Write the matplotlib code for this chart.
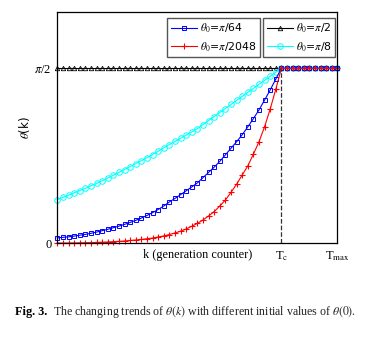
import numpy as np
import matplotlib
matplotlib.use('Agg')
import matplotlib.pyplot as plt

plt.rcParams['mathtext.fontset'] = 'stix'

# generation counter, Tc = 40, Tmax = 50
k = np.arange(0, 51)
Tc = 40
Tmax = 50

# theta(k), in units of pi/2 (k = 0..40, then flat at pi/2)
theta_pi8 = [0.250, 0.262, 0.275, 0.288, 0.301, 0.314, 0.328, 0.342, 0.357, 0.373,
             0.389, 0.405, 0.421, 0.438, 0.455, 0.472, 0.489, 0.507, 0.526, 0.545,
             0.564, 0.582, 0.600, 0.618, 0.636, 0.655, 0.678, 0.701, 0.724, 0.747,
             0.770, 0.793, 0.816, 0.839, 0.862, 0.885, 0.908, 0.931, 0.954, 0.977,
             1.000] + [1.0] * 10
theta_pi64 = [0.031, 0.034, 0.037, 0.041, 0.046, 0.051, 0.057, 0.064, 0.072, 0.080,
              0.089, 0.098, 0.108, 0.119, 0.131, 0.144, 0.159, 0.175, 0.193, 0.213,
              0.236, 0.256, 0.278, 0.300, 0.322, 0.345, 0.375, 0.405, 0.435, 0.468,
              0.505, 0.543, 0.580, 0.620, 0.665, 0.712, 0.762, 0.818, 0.876, 0.938,
              1.000] + [1.0] * 10
theta_pi2048 = [0.0010, 0.0013, 0.0016, 0.0020, 0.0025, 0.0031, 0.0039, 0.0048, 0.0060, 0.0075,
                0.0093, 0.011, 0.013, 0.016, 0.019, 0.022, 0.026, 0.030, 0.036, 0.042,
                0.050, 0.059, 0.069, 0.082, 0.097, 0.114, 0.133, 0.156, 0.181, 0.213,
                0.247, 0.291, 0.337, 0.390, 0.442, 0.509, 0.580, 0.666, 0.767, 0.880,
                1.000] + [1.0] * 10
theta_pi2 = [1.0] * 51

fig = plt.figure(figsize=(3.77, 3.57), dpi=100)
ax = fig.add_axes([0.152, 0.3185, 0.743, 0.648])

half_pi = np.pi / 2
l_tri, = ax.plot(k, np.array(theta_pi2) * half_pi, '-^', color='black', lw=0.8,
                 ms=3.2, mfc='none', mew=0.6, clip_on=False)
l_cir, = ax.plot(k, np.array(theta_pi8) * half_pi, '-o', color='cyan', lw=0.8,
                 ms=4.0, mfc='none', mew=0.7, clip_on=False)
l_sq, = ax.plot(k, np.array(theta_pi64) * half_pi, '-s', color='blue', lw=0.8,
                ms=3.3, mfc='none', mew=0.7, clip_on=False)
l_pl, = ax.plot(k, np.array(theta_pi2048) * half_pi, '-+', color='red', lw=0.8,
                ms=4.5, mew=0.8, clip_on=False)

ax.plot([Tc, Tc], [0, half_pi], '--', color='#333333', lw=0.9)

ax.set_xlim(0, Tmax)
ax.set_ylim(0, 2.076)
ax.set_xticks([Tc, Tmax])
ax.set_xticklabels([r'T$_\mathrm{c}$', r'T$_\mathrm{max}$'], family='Liberation Serif', fontsize=9)
ax.set_yticks([0, half_pi])
ax.set_yticklabels(['0', r'$\pi$/2'], family='Liberation Serif', fontsize=9)
ax.tick_params(length=0, pad=4)
for s in ax.spines.values():
    s.set_linewidth(0.9)

ax.set_xlabel('k (generation counter)', family='Liberation Serif', fontsize=8.8, labelpad=-10)
ax.set_ylabel(r'$\theta$(k)', fontsize=8.5, labelpad=2)

leg_kw = dict(loc='upper left', borderaxespad=0, fancybox=False, edgecolor='#555555',
              fontsize=7.8, handlelength=2.4, handletextpad=0.3, labelspacing=0.45,
              borderpad=0.35, framealpha=1)
leg1 = ax.legend([l_sq, l_pl], [r'$\theta_0$=$\pi$/64', r'$\theta_0$=$\pi$/2048'],
                 bbox_to_anchor=(0.392, 0.974), **leg_kw)
ax.add_artist(leg1)
ax.legend([l_tri, l_cir], [r'$\theta_0$=$\pi$/2', r'$\theta_0$=$\pi$/8'],
          bbox_to_anchor=(0.735, 0.974), **leg_kw)

# caption
t1 = fig.text(0.04, 0.126, 'Fig. 3.', family='Liberation Serif', fontweight='bold',
              fontsize=8.8, va='center')
fig.canvas.draw()
bb = t1.get_window_extent()
x2 = (bb.x1 + 6) / fig.bbox.width
fig.text(x2, 0.126, r'The changing trends of $\theta(k)$ with different initial values of $\theta(0)$.',
         family='Liberation Serif', fontsize=8.6, va='center', color='#222222')

plt.savefig('out.png', dpi=100)
